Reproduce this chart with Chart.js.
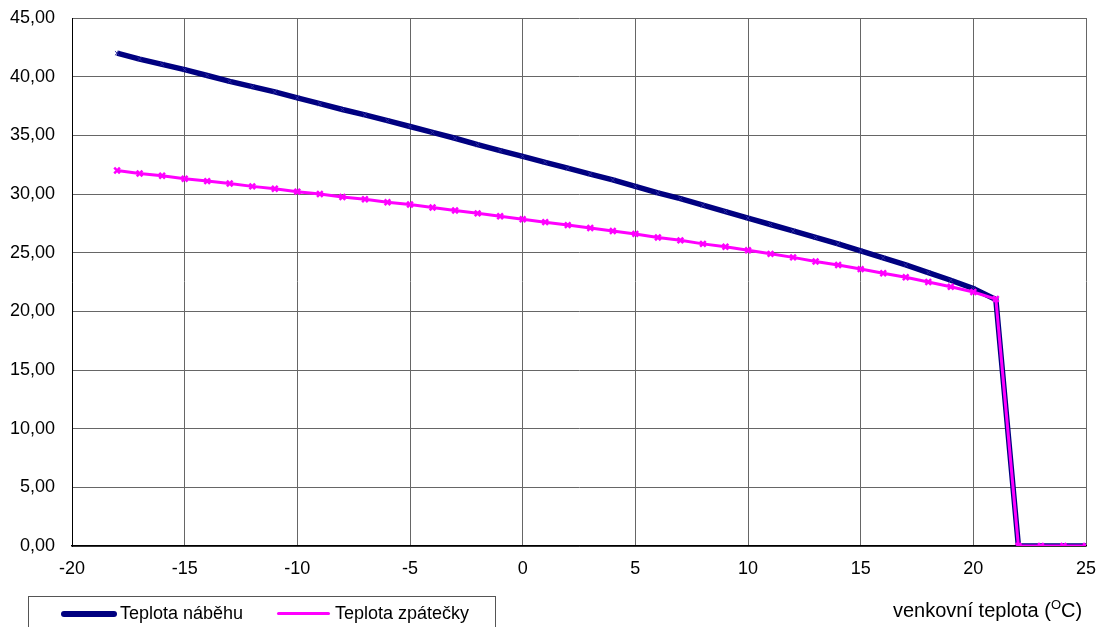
<!DOCTYPE html>
<html>
<head>
<meta charset="utf-8">
<script src="https://cdn.jsdelivr.net/npm/chart.js@4/dist/chart.umd.min.js"></script>
<style>
  body { margin: 0; background: #fff; font-family: "Liberation Sans", Arial, sans-serif; }
  #wrap { position: relative; width: 1098px; height: 627px; overflow: hidden; }
  #legend { position: absolute; left: 28px; top: 596px; width: 468px; height: 40px; border: 1px solid #555; box-sizing: border-box; }
  .item { position: absolute; top: 6px; font-size: 18px; color: #000; line-height: 20px; }
  .sample { position: absolute; border-radius: 3px; }
  #xtitle { position: absolute; left: 893px; top: 597px; font-size: 20px; color: #000; white-space: nowrap; }
  #xtitle sup { font-size: 13px; }
</style>
</head>
<body>
<div id="wrap">
  <canvas id="chart" width="1098" height="627"></canvas>
  <div id="legend">
    <span class="sample" style="left:32px;width:56px;height:6px;background:#000080;top:14px"></span>
    <span class="item" style="left:91px">Teplota náběhu</span>
    <span class="sample" style="left:248px;width:53px;height:3px;background:#ff00ff;top:15px"></span>
    <span class="item" style="left:306px">Teplota zpátečky</span>
  </div>
  <div id="xtitle">venkovní teplota (<sup>O</sup>C)</div>
</div>
<script>
const temps = [-18, -17, -16, -15, -14, -13, -12, -11, -10, -9, -8, -7, -6, -5, -4, -3, -2, -1, 0,
  1, 2, 3, 4, 5, 6, 7, 8, 9, 10, 11, 12, 13, 14, 15, 16, 17, 18, 19, 20, 21, 22, 23, 24, 25];
const naber = [42.0, 41.5, 41.05, 40.6, 40.1, 39.6, 39.15, 38.7, 38.2, 37.7, 37.2, 36.75, 36.25, 35.75,
  35.25, 34.75, 34.2, 33.7, 33.2, 32.7, 32.2, 31.7, 31.2, 30.65, 30.1, 29.6, 29.05, 28.5, 27.95,
  27.4, 26.85, 26.3, 25.75, 25.15, 24.55, 23.95, 23.3, 22.65, 21.95, 21.0, 0, 0, 0, 0];
const zpatecka = [32.0, 31.75, 31.55, 31.3, 31.1, 30.9, 30.65, 30.45, 30.2, 30.0, 29.75, 29.55, 29.3,
  29.1, 28.85, 28.6, 28.35, 28.1, 27.85, 27.6, 27.35, 27.1, 26.85, 26.6, 26.3, 26.05, 25.75, 25.5,
  25.2, 24.9, 24.6, 24.25, 23.95, 23.6, 23.25, 22.9, 22.5, 22.1, 21.65, 21.05, 0, 0, 0, 0];

const ctx = document.getElementById("chart");
new Chart(ctx, {
  type: "line",
  data: {
    datasets: [
      {
        label: "Teplota náběhu",
        data: temps.map((t, i) => ({ x: t, y: naber[i] })),
        borderColor: "#000080",
        backgroundColor: "#000080",
        borderWidth: 5.5,
        pointStyle: "crossRot",
        pointRadius: 3,
        pointBorderWidth: 1,
        pointBorderColor: "#2a2aa0",
        tension: 0,
        order: 2,
      },
      {
        label: "Teplota zpátečky",
        data: temps.map((t, i) => ({ x: t, y: zpatecka[i] })),
        borderColor: "#ff00ff",
        backgroundColor: "#ff00ff",
        borderWidth: 3,
        pointStyle: "crossRot",
        pointRadius: 4,
        pointBorderWidth: 2.5,
        pointBorderColor: "#ff00ff",
        tension: 0,
        order: 1,
      },
    ],
  },
  options: {
    responsive: false,
    animation: false,
    devicePixelRatio: 1,
    layout: { padding: { top: 18, right: 12, left: 0, bottom: 0 } },
    plugins: { legend: { display: false }, tooltip: { enabled: false } },
    scales: {
      x: {
        type: "linear",
        min: -20,
        max: 25,
        afterFit: (scale) => {
          scale.height = 81;
          scale.paddingLeft = 0;
          scale.paddingRight = 0;
        },
        ticks: {
          stepSize: 5,
          padding: 12,
          color: "#000",
          font: { family: "Liberation Sans", size: 18 },
        },
        grid: { color: "#666", drawTicks: false, lineWidth: 1 },
        border: { color: "#000", width: 1.5 },
      },
      y: {
        min: 0,
        max: 45,
        afterFit: (scale) => {
          scale.width = 72;
          scale.paddingTop = 0;
          scale.paddingBottom = 0;
        },
        ticks: {
          stepSize: 5,
          padding: 17,
          color: "#000",
          font: { family: "Liberation Sans", size: 18 },
          callback: (value) => value.toFixed(2).replace(".", ","),
        },
        grid: { color: "#666", drawTicks: false, lineWidth: 1 },
        border: { color: "#000", width: 1 },
      },
    },
  },
});
</script>
</body>
</html>
